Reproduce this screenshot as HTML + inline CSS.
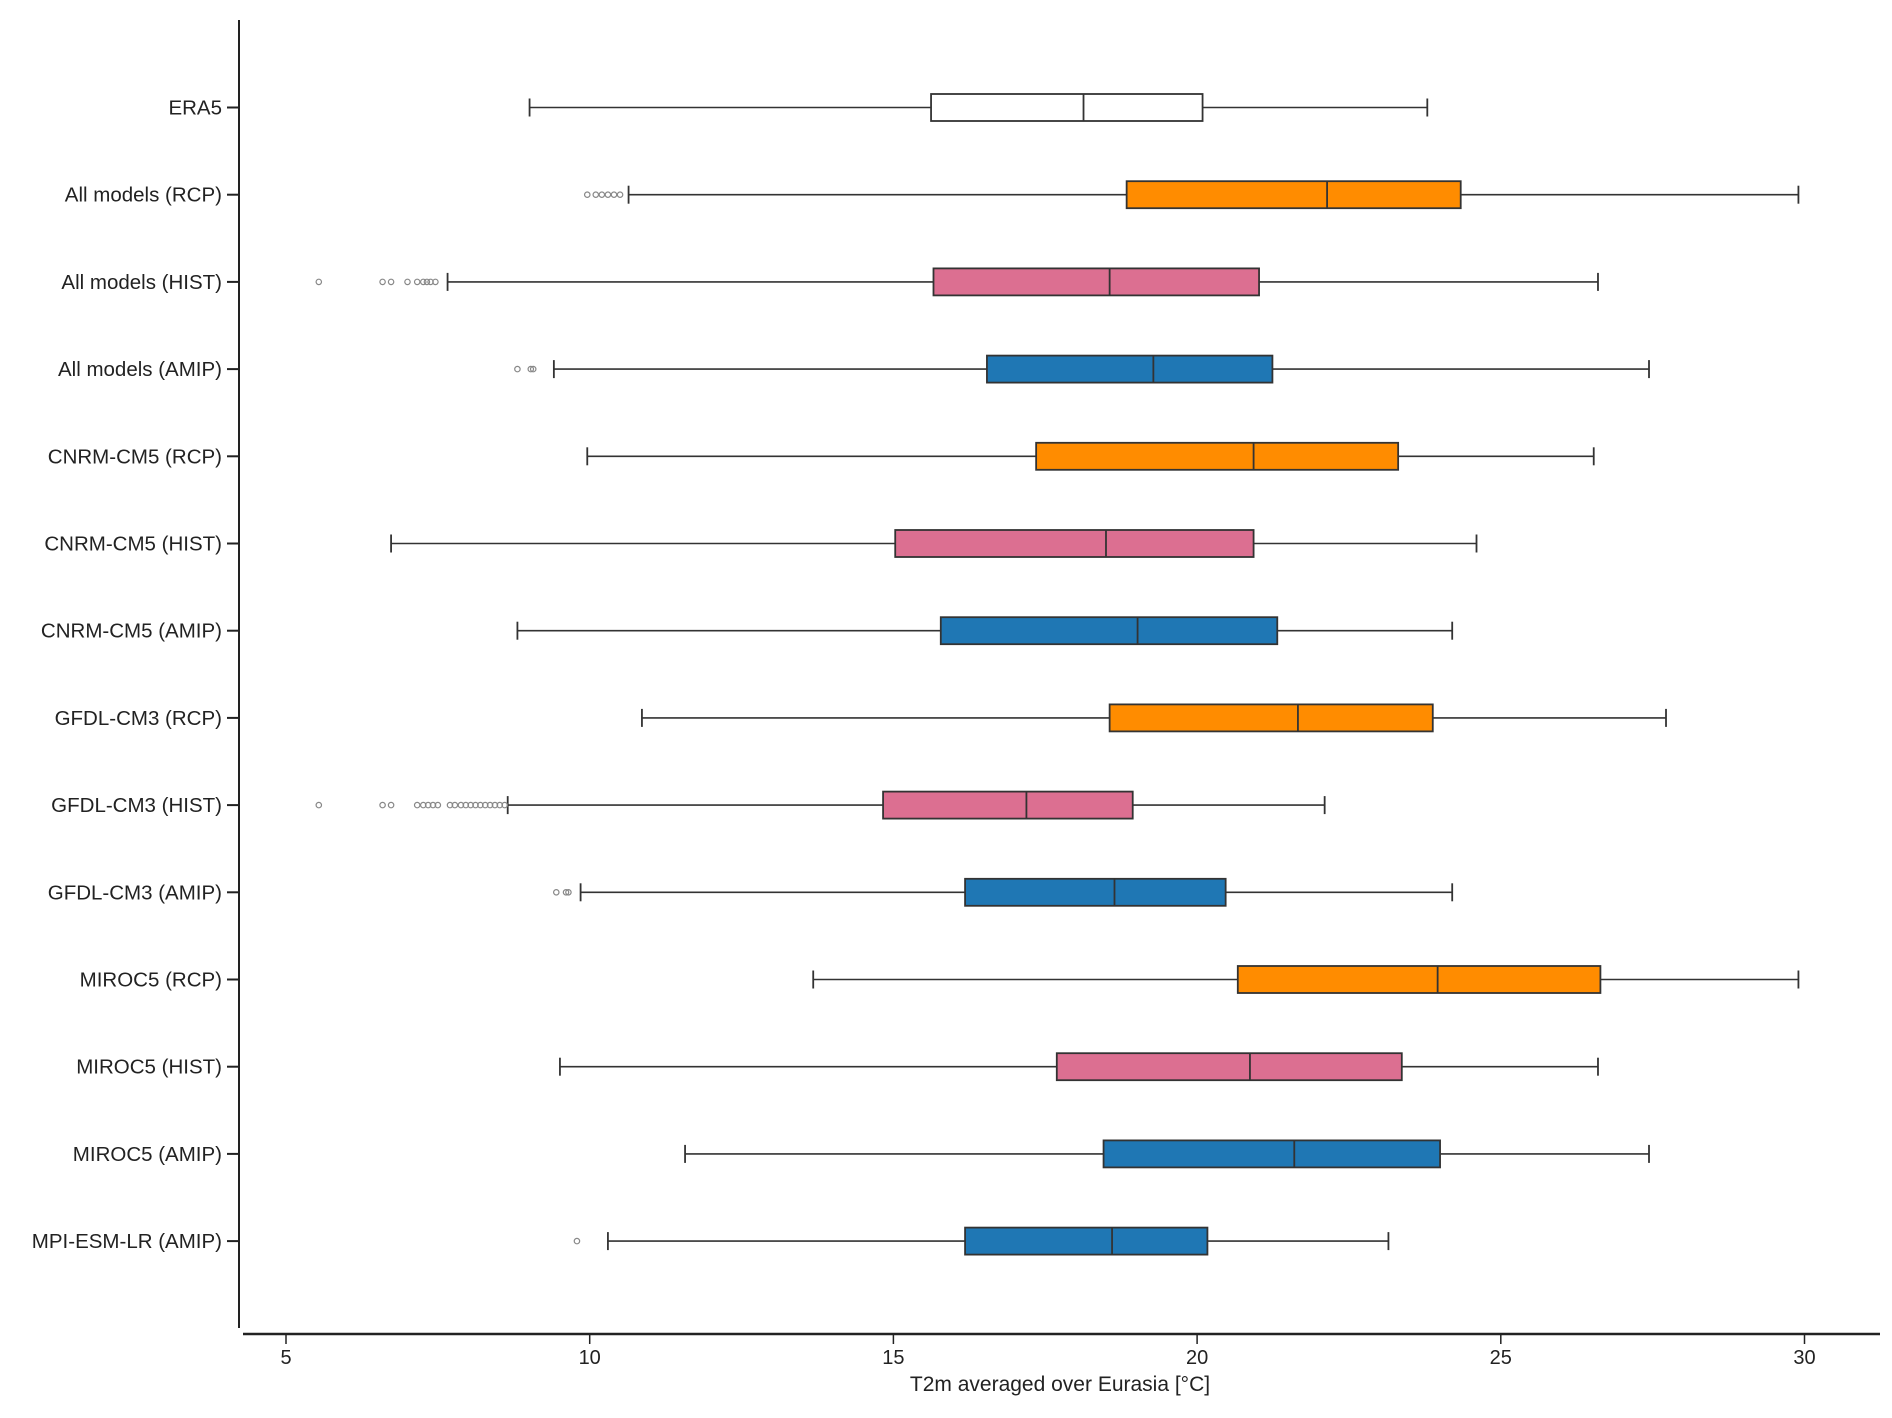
<!DOCTYPE html>
<html><head><meta charset="utf-8"><style>
html,body{margin:0;padding:0;background:#fff;}
svg{display:block;font-family:"Liberation Sans",Arial,sans-serif;}
</style></head><body>
<svg id="chart" width="1892" height="1418" viewBox="0 0 1892 1418"></svg>
<script>
const categories=["ERA5","All models (RCP)","All models (HIST)","All models (AMIP)","CNRM-CM5 (RCP)","CNRM-CM5 (HIST)","CNRM-CM5 (AMIP)","GFDL-CM3 (RCP)","GFDL-CM3 (HIST)","GFDL-CM3 (AMIP)","MIROC5 (RCP)","MIROC5 (HIST)","MIROC5 (AMIP)","MPI-ESM-LR (AMIP)"];
const kinds=["era","rcp","hist","amip","rcp","hist","amip","rcp","hist","amip","rcp","hist","amip","amip"];
const whiskLow=[9.01,10.64,7.66,9.41,9.96,6.73,8.81,10.86,8.65,9.85,13.68,9.51,11.57,10.3];
const q1=[15.62,18.84,15.66,16.54,17.35,15.03,15.78,18.56,14.83,16.18,20.67,17.69,18.46,16.18];
const medians=[18.13,22.14,18.56,19.28,20.93,18.5,19.02,21.66,17.19,18.64,23.96,20.87,21.6,18.6];
const q3=[20.09,24.34,21.02,21.24,23.31,20.93,21.32,23.88,18.94,20.47,26.64,23.37,24.0,20.17];
const whiskHigh=[23.79,29.9,26.6,27.44,26.53,24.6,24.2,27.72,22.1,24.2,29.9,26.6,27.44,23.15];
const fliers=[[],[9.96,10.1,10.2,10.3,10.4,10.5],[5.54,6.59,6.73,7.0,7.16,7.26,7.32,7.38,7.46],[8.81,9.03,9.07],[],[],[],[],[5.54,6.59,6.73,7.16,7.26,7.34,7.42,7.5,7.7,7.78,7.88,7.96,8.04,8.12,8.2,8.28,8.36,8.44,8.52,8.6],[9.45,9.61,9.65],[],[],[],[9.79]];
const xTicks=[5,10,15,20,25,30];
const colors={era:"#ffffff",rcp:"#ff8c00",hist:"#dc6f91",amip:"#1f77b4"};
const NS="http://www.w3.org/2000/svg";
const svg=document.getElementById("chart");
const xs=v=>286+(v-5)*60.74;
const ys=i=>107.5+i*87.2;
function mk(t,a,p){const e=document.createElementNS(NS,t);for(const k in a)e.setAttribute(k,a[k]);(p||svg).appendChild(e);return e;}
let ya=mk("line",{x1:239,y1:20,x2:239,y2:1328,stroke:"#222","stroke-width":2});


let xa=mk("line",{x1:243,y1:1334,x2:1880,y2:1334,stroke:"#222","stroke-width":2.5});


xTicks.forEach(t=>{
 mk("line",{x1:xs(t),y1:1334,x2:xs(t),y2:1344,stroke:"#222","stroke-width":1.5});
 let tx=mk("text",{x:xs(t),y:1364,"text-anchor":"middle","font-size":20,fill:"#222"});
 tx.textContent=t;
 
 
});
let xt=mk("text",{x:1060,y:1391,"text-anchor":"middle","font-size":21,fill:"#222"});
xt.textContent="T2m averaged over Eurasia [°C]";


categories.forEach((c,i)=>{
 const y=ys(i);
 const g=mk("g",{});
 
 
 mk("line",{x1:227,y1:y,x2:239,y2:y,stroke:"#222","stroke-width":2},g);
 let lb=mk("text",{x:222,y:y+7,"text-anchor":"end","font-size":20.5,fill:"#222"},g);
 lb.textContent=c;
 
 
 mk("line",{x1:xs(whiskLow[i]),y1:y,x2:xs(q1[i]),y2:y,stroke:"#333","stroke-width":1.6},g);
 mk("line",{x1:xs(q3[i]),y1:y,x2:xs(whiskHigh[i]),y2:y,stroke:"#333","stroke-width":1.6},g);
 mk("line",{x1:xs(whiskLow[i]),y1:y-9,x2:xs(whiskLow[i]),y2:y+9,stroke:"#333","stroke-width":1.8},g);
 mk("line",{x1:xs(whiskHigh[i]),y1:y-9,x2:xs(whiskHigh[i]),y2:y+9,stroke:"#333","stroke-width":1.8},g);
 mk("rect",{x:xs(q1[i]),y:y-13.5,width:xs(q3[i])-xs(q1[i]),height:27,fill:colors[kinds[i]],stroke:"#333","stroke-width":1.8},g);
 mk("line",{x1:xs(medians[i]),y1:y-13.5,x2:xs(medians[i]),y2:y+13.5,stroke:"#333","stroke-width":1.8},g);
 fliers[i].forEach(f=>{mk("circle",{cx:xs(f),cy:y,r:2.7,fill:"none",stroke:"#888","stroke-width":1.2},g);});
});
</script>
</body></html>
